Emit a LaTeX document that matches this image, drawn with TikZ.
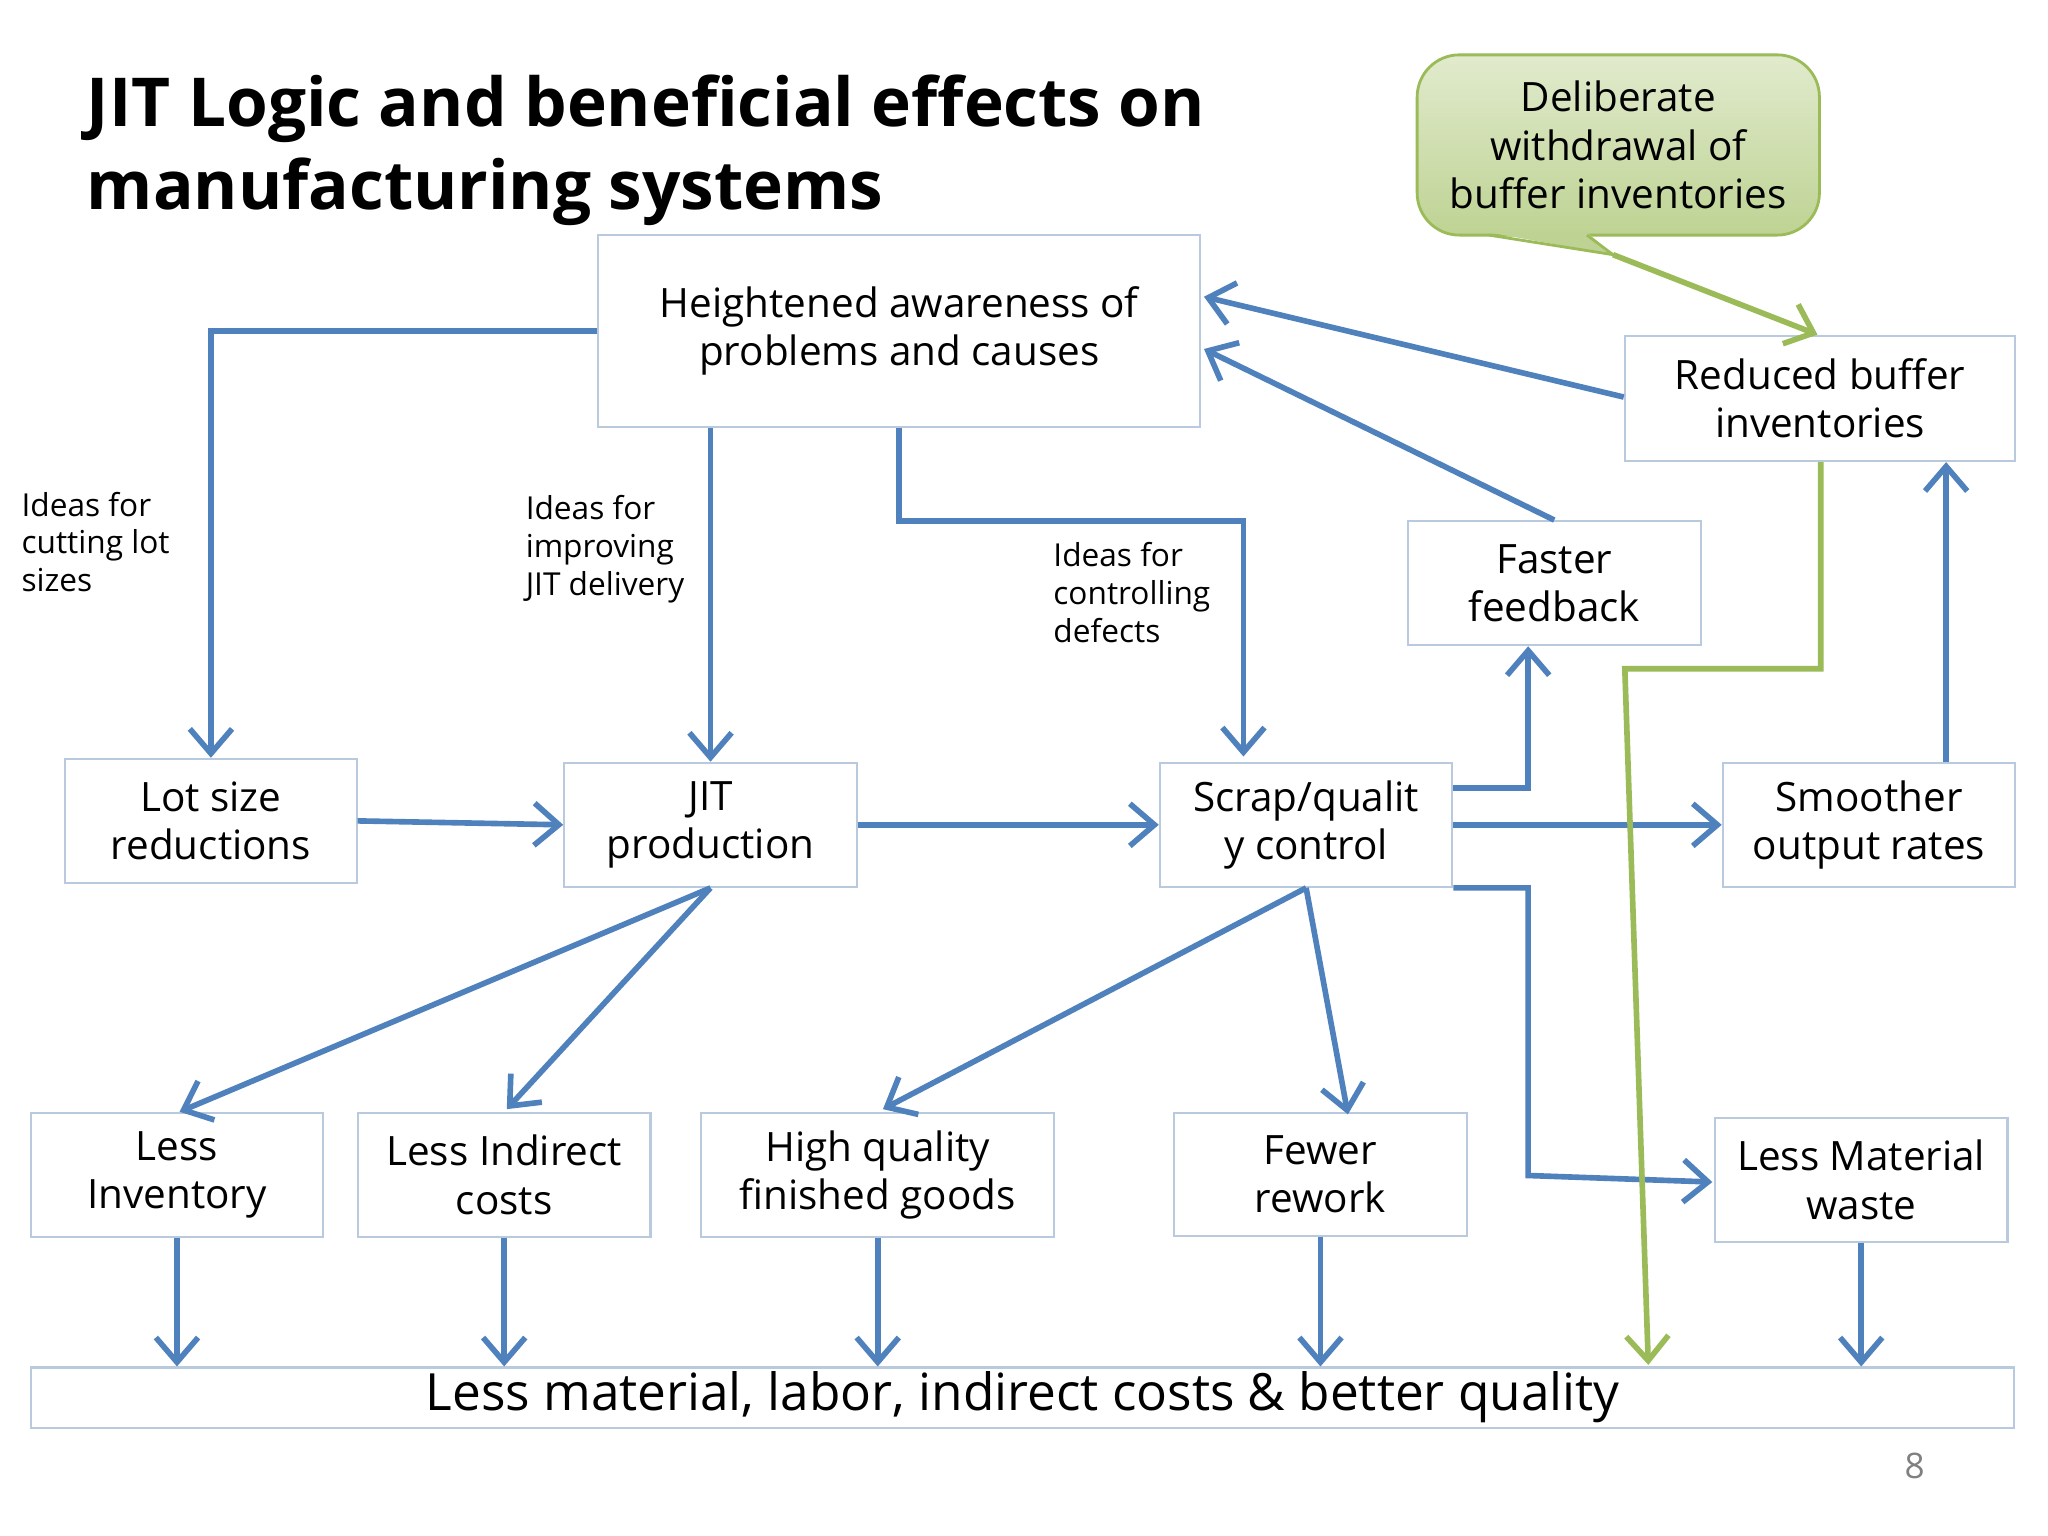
\documentclass[tikz,border=0pt]{standalone}
\usepackage{fontspec}
\setmainfont{Open Sans}
\usetikzlibrary{arrows.meta,calc}
\definecolor{ab}{RGB}{79,129,189}
\definecolor{gr}{RGB}{155,187,89}
\definecolor{bx}{RGB}{185,202,222}
\tikzset{
 box/.style={draw=bx,line width=0.6pt,align=center,inner sep=0pt,font=\fontsize{11.5}{13.8}\selectfont},
 arr/.style={draw=ab,line width=1.6pt,-{Straight Barb[length=7pt,width=12pt,line width=1.6pt]}},
 garr/.style={draw=gr,line width=1.6pt,-{Straight Barb[length=7pt,width=12pt,line width=1.6pt]}},
 lab/.style={align=left,anchor=north west,inner sep=0pt,font=\fontsize{9}{10.7}\selectfont}
}
\begin{document}
\begin{tikzpicture}[x=0.01306cm,y=-0.01306cm]
\useasboundingbox[fill=white] (0,0) rectangle (1568,1176);
\node[anchor=west,align=left,font=\fontsize{19.2}{23.4}\selectfont\bfseries,inner sep=0pt] (title) at (66,115) {JIT Logic and beneficial effects on\\manufacturing systems};
\def\bx(#1,#2,#3,#4)#5#6{\node[box,minimum width={(#3-#1)*0.01306cm},minimum height={(#4-#2)*0.01306cm}] (#5) at ({(#1+#3)/2},{(#2+#4)/2}) {#6};}
\bx(458,180,919,327){heighten}{Heightened awareness of\\problems and causes}
\bx(1244,257,1543,353){reduced}{Reduced buffer\\inventories}
\bx(1078,399,1302,494){faster}{Faster\\feedback}
\bx(50,581,273,676){lot}{Lot size\\reductions}
\bx(432,584,656,679){jit}{JIT\\production}
\bx(888,584,1112,679){scrap}{Scrap/qualit\\y control}
\bx(1319,584,1543,679){smooth}{Smoother\\output rates}
\bx(24,852,247,947){linv}{Less\\Inventory}
\bx(274,852,498,947){lind}{Less Indirect\\costs}
\bx(537,852,807,947){hq}{High quality\\finished goods}
\bx(899,852,1123,946){fewer}{Fewer\\rework}
\bx(1313,856,1537,951){lmat}{Less Material\\waste}
\node[box,minimum width={1518*0.01306cm},minimum height={46*0.01306cm},font=\fontsize{14.6}{16}\selectfont] (bot) at (783,1070) {Less material, labor, indirect costs \& better quality};
% callout
\shade[top color=gr!30,bottom color=gr!65,draw=gr,line width=0.8pt,rounded corners=12pt] (1085,42) rectangle (1393,180);
\fill[gr!65] (1140,178) -- (1235,195) -- (1215,178) -- cycle;
\draw[gr,line width=0.8pt] (1140,180) -- (1235,195) -- (1215,180);
\node[align=center,font=\fontsize{11.5}{13.8}\selectfont] (callout) at (1239,111) {Deliberate\\withdrawal of\\buffer inventories};
\coordinate (tail) at (1235,195);
% labels
\node[lab] (l1) at (16,376) {Ideas for\\cutting lot\\sizes};
\node[lab] (l2) at (402,379) {Ideas for\\improving\\JIT delivery};
\node[lab] (l3) at (806,415) {Ideas for\\controlling\\defects};
\node[text=gray,font=\fontsize{10}{12}\selectfont] (pg) at (1466,1122) {8};
% arrows
\draw[arr] (heighten.west) -| (lot.north);
\draw[arr] (heighten.south -| jit.north) -- (jit.north);
\draw[arr] (heighten.south) |- (820,399) -| ($(scrap.north)+(-48,-4)$);
\draw[arr] ($(reduced.west)+(0,-1)$) -- ($(heighten.north east)+(2,48)$);
\draw[arr] (faster.north) -- ($(heighten.north east)+(2,88)$);
\draw[arr] (lot.east) -- (jit.west);
\draw[arr] (jit.east) -- (scrap.west);
\draw[arr] ($(scrap.north east)+(0,20)$) -| ($(faster.south)+(-20,0)$);
\draw[arr] (scrap.east) -- (smooth.west);
\draw[arr] (scrap.south east) -| (1170,900) -- (1311,905);
\draw[arr] (smooth.north -| 1490,0) -- (reduced.south -| 1490,0);
\draw[arr] (jit.south) -- ($(linv.north)+(2,0)$);
\draw[arr] (jit.south) -- ($(lind.north)+(2,-2)$);
\draw[arr] (scrap.south) -- ($(hq.north)+(4,-2)$);
\draw[arr] (scrap.south) -- ($(fewer.north)+(21,2)$);
\foreach \n in {linv,lind,hq,fewer,lmat}{\draw[arr] (\n.south) -- (\n.south |- bot.north);}
\draw[garr] (tail) -- ($(reduced.north)+(-2,0)$);
\draw[garr] (reduced.south -| 1394,0) -- (1394,512) -- (1244,512) -- (1262,1045);
\end{tikzpicture}
\end{document}
